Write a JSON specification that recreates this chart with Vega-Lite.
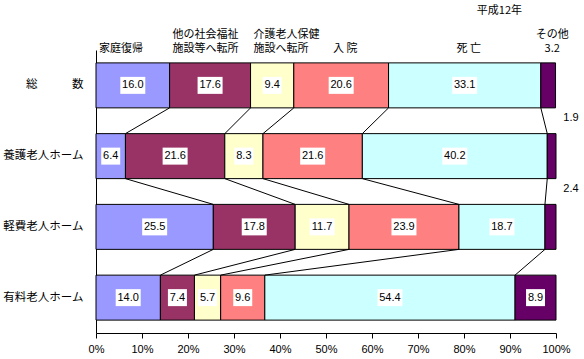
{
  "$schema": "https://vega.github.io/schema/vega-lite/v6.json",
  "width": 460,
  "height": 283,
  "autosize": {"type": "none"},
  "padding": {"left": 96, "top": 50, "right": 28, "bottom": 26},
  "background": "white",
  "title": {"text": "平成12年", "anchor": "end", "orient": "top", "frame": "group", "offset": 13, "dx": -34, "fontSize": 11, "fontWeight": "normal", "font": "Noto Sans CJK JP", "color": "black"},
  "config": {"view": {"stroke": null}},
  "data": {"values": [
    {"row": "総　　　数", "cat": "家庭復帰", "value": 16.0},
    {"row": "総　　　数", "cat": "他の社会福祉施設等へ転所", "value": 17.6},
    {"row": "総　　　数", "cat": "介護老人保健施設へ転所", "value": 9.4},
    {"row": "総　　　数", "cat": "入院", "value": 20.6},
    {"row": "総　　　数", "cat": "死亡", "value": 33.1},
    {"row": "総　　　数", "cat": "その他", "value": 3.2},
    {"row": "養護老人ホーム", "cat": "家庭復帰", "value": 6.4},
    {"row": "養護老人ホーム", "cat": "他の社会福祉施設等へ転所", "value": 21.6},
    {"row": "養護老人ホーム", "cat": "介護老人保健施設へ転所", "value": 8.3},
    {"row": "養護老人ホーム", "cat": "入院", "value": 21.6},
    {"row": "養護老人ホーム", "cat": "死亡", "value": 40.2},
    {"row": "養護老人ホーム", "cat": "その他", "value": 1.9},
    {"row": "軽費老人ホーム", "cat": "家庭復帰", "value": 25.5},
    {"row": "軽費老人ホーム", "cat": "他の社会福祉施設等へ転所", "value": 17.8},
    {"row": "軽費老人ホーム", "cat": "介護老人保健施設へ転所", "value": 11.7},
    {"row": "軽費老人ホーム", "cat": "入院", "value": 23.9},
    {"row": "軽費老人ホーム", "cat": "死亡", "value": 18.7},
    {"row": "軽費老人ホーム", "cat": "その他", "value": 2.4},
    {"row": "有料老人ホーム", "cat": "家庭復帰", "value": 14.0},
    {"row": "有料老人ホーム", "cat": "他の社会福祉施設等へ転所", "value": 7.4},
    {"row": "有料老人ホーム", "cat": "介護老人保健施設へ転所", "value": 5.7},
    {"row": "有料老人ホーム", "cat": "入院", "value": 9.6},
    {"row": "有料老人ホーム", "cat": "死亡", "value": 54.4},
    {"row": "有料老人ホーム", "cat": "その他", "value": 8.9}
  ]},
  "transform": [
    {"calculate": "indexof(['総　　　数','養護老人ホーム','軽費老人ホーム','有料老人ホーム'], datum.row)", "as": "ri"},
    {"calculate": "indexof(['家庭復帰','他の社会福祉施設等へ転所','介護老人保健施設へ転所','入院','死亡','その他'], datum.cat)", "as": "ci"},
    {"stack": "value", "groupby": ["row"], "sort": [{"field": "ci", "order": "ascending"}], "as": ["x0", "x1"]},
    {"calculate": "(datum.x0 + datum.x1) / 2", "as": "mid"}
  ],
  "encoding": {
    "y": {
      "field": "row", "type": "nominal", "title": null,
      "scale": {"domain": ["総　　　数", "養護老人ホーム", "軽費老人ホーム", "有料老人ホーム"], "paddingInner": 0.364, "paddingOuter": 0.182},
      "axis": {"ticks": false, "domainColor": "black", "labelColor": "black", "labelFont": "Noto Sans CJK JP", "labelFontSize": 11.5, "labelPadding": 13, "labelAlign": "right"}
    }
  },
  "layer": [
    {
      "mark": {"type": "bar", "stroke": "black", "strokeWidth": 1},
      "encoding": {
        "x": {"field": "x0", "type": "quantitative", "title": null,
          "scale": {"domain": [0, 100], "nice": false},
          "axis": {"values": [0, 10, 20, 30, 40, 50, 60, 70, 80, 90, 100], "labelExpr": "datum.value + '%'", "labelFlush": false, "labelOverlap": false, "grid": false, "domainColor": "black", "tickColor": "black", "tickSize": 5, "labelColor": "black", "labelFont": "Liberation Sans", "labelFontSize": 11, "labelPadding": 5}},
        "x2": {"field": "x1"},
        "color": {"field": "cat", "type": "nominal", "legend": null,
          "scale": {"domain": ["家庭復帰", "他の社会福祉施設等へ転所", "介護老人保健施設へ転所", "入院", "死亡", "その他"],
                    "range": ["#9999FF", "#993366", "#FFFFCC", "#FF8080", "#CCFFFF", "#660066"]}}
      }
    },
    {
      "transform": [
        {"window": [{"op": "lead", "field": "x1", "as": "nx"}, {"op": "lead", "field": "row", "as": "nrow"}], "groupby": ["cat"], "sort": [{"field": "ri", "order": "ascending"}]},
        {"filter": "datum.nrow != null && datum.cat != 'その他'"}
      ],
      "mark": {"type": "rule", "color": "black", "strokeWidth": 1, "yOffset": 22.5, "y2Offset": -22.5},
      "encoding": {
        "x": {"field": "x1", "type": "quantitative"},
        "x2": {"field": "nx"},
        "y2": {"field": "nrow"}
      }
    },
    {
      "transform": [{"filter": "datum.cat != 'その他' || datum.ri == 3"}],
      "mark": {"type": "point", "filled": true, "fill": "white", "stroke": null, "opacity": 1, "size": 100},
      "encoding": {
        "x": {"field": "mid", "type": "quantitative"},
        "shape": {"condition": {"test": "length(format(datum.value, '.1f')) > 3", "value": "M-2.5,-1.7H2.5V1.7H-2.5Z"}, "value": "M-1.9,-1.7H1.9V1.7H-1.9Z"}
      }
    },
    {
      "transform": [{"filter": "datum.cat != 'その他' || datum.ri == 3"}],
      "mark": {"type": "text", "color": "black", "font": "Liberation Sans", "fontSize": 11, "align": "center", "baseline": "middle"},
      "encoding": {
        "x": {"field": "mid", "type": "quantitative"},
        "text": {"field": "value", "type": "quantitative", "format": ".1f"}
      }
    },
    {
      "transform": [{"filter": "datum.cat == 'その他' && (datum.ri == 1 || datum.ri == 2)"}],
      "mark": {"type": "text", "color": "black", "font": "Liberation Sans", "fontSize": 11, "align": "center", "baseline": "middle", "dx": 15, "dy": -38},
      "encoding": {
        "x": {"field": "x1", "type": "quantitative"},
        "text": {"field": "value", "type": "quantitative", "format": ".1f"}
      }
    },
    {
      "transform": [
        {"filter": "datum.ri == 0 && datum.ci <= 2"},
        {"calculate": "datum.ci == 1 ? ['他の社会福祉','施設等へ転所'] : datum.ci == 2 ? ['介護老人保健','施設へ転所'] : ['', datum.cat]", "as": "hdr"}
      ],
      "mark": {"type": "text", "color": "black", "font": "Noto Sans CJK JP", "fontSize": 11, "lineHeight": 14, "align": "left", "baseline": "bottom", "dx": 3, "dy": -45},
      "encoding": {
        "x": {"field": "x0", "type": "quantitative"},
        "text": {"field": "hdr"}
      }
    },
    {
      "transform": [
        {"filter": "datum.ri == 0 && datum.ci >= 3"},
        {"calculate": "datum.ci == 3 ? ['', '入 院'] : datum.ci == 4 ? ['', '死 亡'] : ['その他', format(datum.value, '.1f')]", "as": "hdr"}
      ],
      "mark": {"type": "text", "color": "black", "font": "Noto Sans CJK JP", "fontSize": 11, "lineHeight": 14, "align": "center", "baseline": "bottom", "dx": 4, "dy": -45},
      "encoding": {
        "x": {"field": "mid", "type": "quantitative"},
        "text": {"field": "hdr"}
      }
    }
  ]
}
